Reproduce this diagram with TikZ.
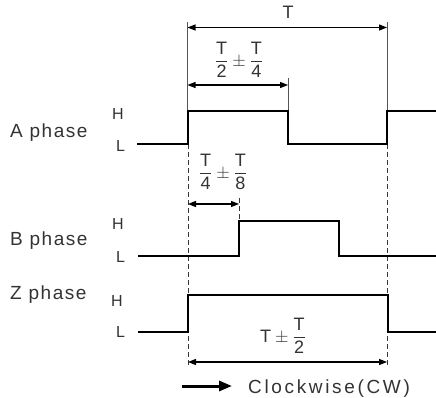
\documentclass[tikz,border=0pt]{standalone}
\usepackage{amsmath}
\usepackage{fontspec}
\setmainfont{Liberation Sans}
\usetikzlibrary{arrows.meta}
\definecolor{txt}{HTML}{333333}
\definecolor{ext}{HTML}{555555}
\definecolor{dsh}{HTML}{3A3A3A}
\newcommand\myfr[2]{\displaystyle\frac{\hbox{#1}}{\hbox{#2}}}
\tikzset{
  sig/.style={line width=2pt, black, line join=miter},
  dim/.style={line width=1.1pt, black, {Triangle[length=8pt,width=6pt]}-{Triangle[length=8pt,width=6pt]}},
  extline/.style={line width=0.9pt, ext},
  dashline/.style={line width=0.9pt, dsh, dash pattern=on 5pt off 3pt},
  lbl/.style={font=\fontsize{19}{22}\selectfont\addfontfeature{LetterSpace=8}, text=txt, inner sep=0pt, anchor=base west},
  cwlbl/.style={font=\fontsize{19}{22}\selectfont\addfontfeature{LetterSpace=14}, text=txt, inner sep=0pt, anchor=base west},
  hl/.style={font=\fontsize{16}{18}\selectfont, text=txt, inner sep=0pt, anchor=base west},
  fr/.style={font=\fontsize{18}{21}\selectfont, text=txt, inner sep=0pt},
}
\begin{document}
\begin{tikzpicture}[x=1pt,y=-1pt]
\useasboundingbox (0,0) rectangle (436,398);
% key coordinates
\coordinate (t0) at (187.5,22);
\coordinate (t1) at (387,22);
\coordinate (th) at (288,78);
\coordinate (a0) at (187.5,111);
\coordinate (ah) at (288,111);
\coordinate (a1) at (387,111);
% extension lines
\draw[extline] (t0) -- (a0);
\draw[extline] (t1) -- (a1);
\draw[extline] (th) -- (ah);
% dimension arrows
\coordinate (dT0) at (187.5,27.5); \coordinate (dT1) at (387,27.5);
\draw[dim] (dT0) -- (dT1);
\coordinate (dH0) at (187.5,85); \coordinate (dH1) at (288,85);
\draw[dim] (dH0) -- (dH1);
% dashed lines
\coordinate (q0) at (188,144); \coordinate (q0e) at (188,366);
\coordinate (q1) at (387,144); \coordinate (q1e) at (387,366);
\coordinate (qb) at (239,198); \coordinate (qbe) at (239,221);
\draw[dashline] (q0) -- (q0e);
\draw[dashline] (q1) -- (q1e);
\draw[dashline] (qb) -- (qbe);
\coordinate (dQ0) at (188,204); \coordinate (dQ1) at (239,204);
\draw[dim] (dQ0) -- (dQ1);
\coordinate (dZ0) at (188,362); \coordinate (dZ1) at (387,362);
\draw[dim] (dZ0) -- (dZ1);
% waveforms
\draw[sig] (137,144) -- (188,144) -- (188,111) -- (288,111) -- (288,144) -- (387,144) -- (387,111) -- (436,111);
\draw[sig] (138,256) -- (239,256) -- (239,221) -- (339,221) -- (339,256) -- (436,256);
\draw[sig] (138,332) -- (188,332) -- (188,295) -- (388,295) -- (388,332) -- (436,332);
% labels
\node[lbl] (la) at (10,137.3) {A phase};
\node[lbl] (lb) at (10,245) {B phase};
\node[lbl] (lz) at (10,299) {Z phase};
\node[hl] (ah1) at (112,120) {H};
\node[hl] (al1) at (116,152) {L};
\node[hl] (bh1) at (112,229) {H};
\node[hl] (bl1) at (116,262) {L};
\node[hl] (zh1) at (111,306) {H};
\node[hl] (zl1) at (116,337) {L};
% dimension texts
\node[fr, anchor=base] (tT) at (288,19) {T};
\node[fr] (tH) at (239,60) {$\myfr{T}{2}\pm\myfr{T}{4}$};
\node[fr] (tQ) at (223,172) {$\myfr{T}{4}\pm\myfr{T}{8}$};
\node[fr] (tZ) at (283,336) {$\hbox{T}\pm\myfr{T}{2}$};
% clockwise
\coordinate (cw0) at (182,386); \coordinate (cw1) at (232,386);
\draw[line width=3pt, -{Triangle[length=13pt,width=10pt]}] (cw0) -- (cw1);
\node[cwlbl] (cw) at (248,393) {Clockwise(CW)};
\end{tikzpicture}
\end{document}
